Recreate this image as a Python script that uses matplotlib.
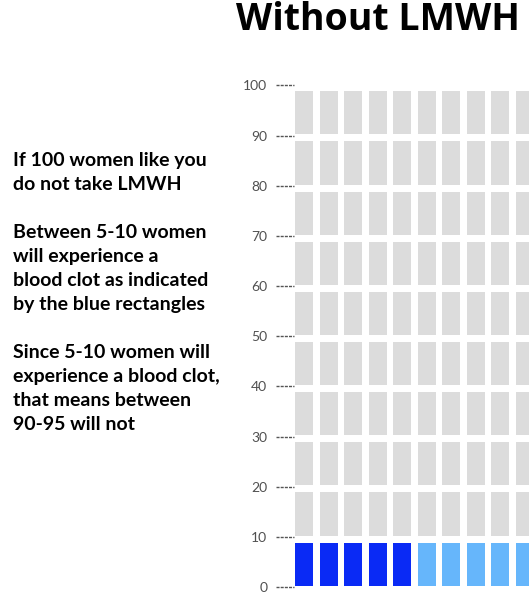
import numpy as np
import matplotlib.pyplot as plt
from matplotlib import transforms

# 10 columns x 10 rows = 100 women, one block per 10 % band
columns = list(range(10))
rows = list(range(0, 100, 10))
# first-row outcome per column: 'definite' clot (dark), 'possible' clot (light), none otherwise
first_row_status = ["definite"] * 5 + ["possible"] * 5
yticks = list(range(0, 101, 10))

title = "Without LMWH"
side_text = (
    "If 100 women like you\n"
    "do not take LMWH\n"
    "\n"
    "Between 5-10 women\n"
    "will experience a\n"
    "blood clot as indicated\n"
    "by the blue rectangles\n"
    "\n"
    "Since 5-10 women will\n"
    "experience a blood clot,\n"
    "that means between\n"
    "90-95 will not"
)

COLORS = {"definite": "#0a2af5", "possible": "#66b6fb", "none": "#dcdcdc"}
BLOCK_H = 8.6
BLOCK_PAD = 0.25

W, H = 529, 593
fig = plt.figure(figsize=(W / 100, H / 100), dpi=100)
ax = fig.add_axes([295 / W, 6 / H, 245 / W, 501.5 / H])

for c, status in zip(columns, first_row_status):
    for r in rows:
        color = COLORS[status] if r == 0 else COLORS["none"]
        ax.bar(c, BLOCK_H, bottom=r + BLOCK_PAD, width=0.755, color=color, linewidth=0)

ax.set_xlim(-0.3775, 9.6225)
ax.set_ylim(0, 100)
ax.set_xticks([])
ax.set_yticks(yticks)
ax.set_yticklabels([str(t) for t in yticks], family="Lato", color="#505050", fontsize=10)
ax.tick_params(axis="y", length=0, pad=20)
for s in ax.spines.values():
    s.set_visible(False)

# dashed tick marks left of the blocks
trans = transforms.blended_transform_factory(ax.transAxes, ax.transData)
for t in yticks:
    ax.plot([-19 / 245, -1 / 245], [t, t], transform=trans, color="#555555",
            linewidth=1.0, linestyle=(0, (2.2, 0.8)), clip_on=False)

fig.text(378 / W, 1 - 29.5 / H, title, ha="center", va="baseline",
         family="Open Sans", fontweight="bold", fontsize=27)
fig.text(13 / W, 1 - 152 / H, side_text, ha="left", va="top",
         family="Lato", fontweight="bold", fontsize=14, linespacing=1.5)

fig.savefig("out.png", dpi=100)
